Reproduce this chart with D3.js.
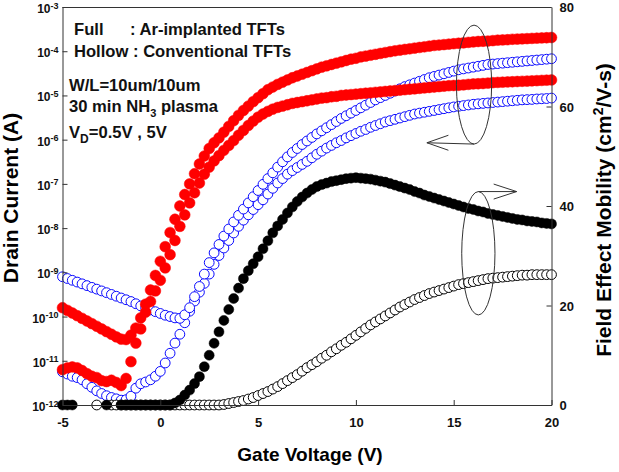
<!DOCTYPE html>
<html>
<head>
<meta charset="utf-8">
<script src="https://cdn.jsdelivr.net/npm/d3@7"></script>
<style>
  body { margin: 0; background: #fff; }
  svg { display: block; font-family: Arial, "Liberation Sans", sans-serif; font-weight: bold; }
</style>
</head>
<body>
<div id="chart"></div>
<script>
// Gate voltage sweep, -5 V to 20 V in 0.25 V steps (101 points)
const gateVoltage = d3.range(101).map(i => -5 + i * 0.25);

// Drain current, stored as log10(I / A)
// Ar-implanted TFT, VD = 5 V (full red, upper)
const logIdArVd5 = [
  -9.80, -9.86, -9.92, -9.98, -10.04, -10.10, -10.16, -10.22, -10.28, -10.34,
  -10.40, -10.46, -10.51, -10.52, -10.42, -10.26, -10.03, -9.72, -9.40, -9.07,
  -8.75, -8.42, -8.10, -7.80, -7.50, -7.24, -7.00, -6.77, -6.55, -6.37,
  -6.20, -6.07, -5.96, -5.83, -5.70, -5.57, -5.45, -5.34, -5.24, -5.14,
  -5.05, -4.96, -4.87, -4.81, -4.75, -4.70, -4.65, -4.60, -4.56, -4.52,
  -4.48, -4.44, -4.40, -4.36, -4.33, -4.30, -4.27, -4.24, -4.21, -4.18,
  -4.16, -4.13, -4.11, -4.09, -4.07, -4.05, -4.03, -4.01, -3.99, -3.975,
  -3.96, -3.945, -3.93, -3.915, -3.90, -3.885, -3.87, -3.86, -3.85, -3.84,
  -3.83, -3.82, -3.81, -3.80, -3.79, -3.78, -3.775, -3.77, -3.76, -3.75,
  -3.745, -3.74, -3.73, -3.725, -3.72, -3.715, -3.71, -3.705, -3.70, -3.695, -3.69
];
// Ar-implanted TFT, VD = 0.5 V (full red, lower)
const logIdArVd05 = [
  -11.20, -11.16, -11.14, -11.16, -11.22, -11.29, -11.35, -11.38, -11.45, -11.47,
  -11.44, -11.49, -11.56, -11.40, -11.02, -10.60, -10.28, -9.90, -9.66, -9.42,
  -9.18, -8.90, -8.60, -8.28, -7.96, -7.70, -7.43, -7.20, -6.98, -6.78,
  -6.62, -6.48, -6.36, -6.24, -6.13, -6.02, -5.90, -5.79, -5.68, -5.58,
  -5.49, -5.42, -5.36, -5.31, -5.27, -5.24, -5.21, -5.18, -5.16, -5.14,
  -5.12, -5.10, -5.08, -5.06, -5.05, -5.03, -5.02, -5.00, -4.99, -4.98,
  -4.97, -4.96, -4.95, -4.94, -4.93, -4.92, -4.91, -4.90, -4.89, -4.88,
  -4.87, -4.86, -4.85, -4.84, -4.83, -4.82, -4.81, -4.80, -4.79, -4.78,
  -4.775, -4.77, -4.76, -4.75, -4.74, -4.735, -4.73, -4.72, -4.71, -4.705,
  -4.70, -4.695, -4.69, -4.685, -4.68, -4.675, -4.67, -4.665, -4.66, -4.655, -4.65
];
// Conventional TFT, VD = 5 V (hollow blue, upper)
const logIdConvVd5 = [
  -9.10, -9.14, -9.18, -9.22, -9.26, -9.30, -9.34, -9.38, -9.42, -9.46,
  -9.50, -9.54, -9.58, -9.62, -9.66, -9.71, -9.76, -9.80, -9.85, -9.89,
  -9.93, -9.97, -10.00, -10.03, -10.04, -9.96, -9.80, -9.55, -9.32, -9.04,
  -8.78, -8.56, -8.37, -8.18, -8.02, -7.86, -7.71, -7.57, -7.43, -7.29,
  -7.15, -7.01, -6.88, -6.75, -6.62, -6.50, -6.39, -6.29, -6.20, -6.11,
  -6.03, -5.95, -5.87, -5.80, -5.73, -5.66, -5.59, -5.52, -5.46, -5.40,
  -5.34, -5.28, -5.22, -5.16, -5.10, -5.05, -5.00, -4.95, -4.90, -4.85,
  -4.80, -4.76, -4.72, -4.68, -4.64, -4.60, -4.57, -4.54, -4.51, -4.48,
  -4.45, -4.42, -4.40, -4.38, -4.36, -4.34, -4.32, -4.30, -4.29, -4.28,
  -4.27, -4.26, -4.25, -4.24, -4.23, -4.22, -4.21, -4.20, -4.19, -4.18, -4.17
];
// Conventional TFT, VD = 0.5 V (hollow blue, lower)
const logIdConvVd05 = [
  -11.25, -11.30, -11.35, -11.38, -11.43, -11.52, -11.60, -11.68, -11.74, -11.79,
  -11.83, -11.86, -11.89, -11.88, -11.80, -11.62, -11.52, -11.48, -11.43, -11.35,
  -11.24, -11.05, -10.83, -10.60, -10.40, -10.14, -9.88, -9.65, -9.45, -9.25,
  -9.04, -8.82, -8.62, -8.45, -8.28, -8.11, -7.96, -7.82, -7.70, -7.58,
  -7.47, -7.36, -7.23, -7.10, -6.98, -6.88, -6.78, -6.70, -6.63, -6.56,
  -6.49, -6.41, -6.33, -6.26, -6.19, -6.13, -6.07, -6.02, -5.96, -5.91,
  -5.86, -5.81, -5.77, -5.72, -5.68, -5.64, -5.60, -5.57, -5.54, -5.51,
  -5.48, -5.45, -5.42, -5.40, -5.38, -5.36, -5.34, -5.32, -5.30, -5.28,
  -5.26, -5.245, -5.23, -5.215, -5.20, -5.19, -5.18, -5.17, -5.16, -5.15,
  -5.14, -5.13, -5.12, -5.11, -5.10, -5.095, -5.09, -5.08, -5.075, -5.07, -5.06
];

// Field effect mobility (cm2/V-s); null = not plotted
const mobilityAr = [
  0, 0, 0, null, null, null, null, null, null, 0,
  null, null, 0, 0, 0, 0, 0, 0, 0, 0,
  0, 0, 0, 0.4, 1.0, 2.0, 3.0, 4.3, 5.7, 7.7,
  10.0, 12.4, 14.7, 17.0, 19.2, 21.4, 23.5, 25.4, 27.0, 28.4,
  29.8, 31.4, 33.0, 34.6, 36.0, 37.3, 38.6, 39.8, 40.9, 41.8,
  42.6, 43.3, 43.9, 44.3, 44.6, 44.9, 45.1, 45.3, 45.5, 45.6,
  45.7, 45.6, 45.5, 45.4, 45.2, 45.0, 44.8, 44.5, 44.2, 43.9,
  43.6, 43.3, 42.9, 42.6, 42.2, 41.9, 41.6, 41.3, 41.0, 40.7,
  40.4, 40.1, 39.8, 39.5, 39.3, 39.0, 38.8, 38.5, 38.3, 38.1,
  37.9, 37.7, 37.5, 37.3, 37.2, 37.0, 36.9, 36.8, 36.6, 36.5, 36.4
];
const mobilityConv = [
  null, null, null, null, null, null, null, 0, null, null,
  0, 0, 0, 0, 0, 0, 0, 0, 0, 0,
  0, 0, 0, 0, 0, 0, 0, 0, 0, 0,
  0, 0, 0, 0.1, 0.3, 0.5, 0.7, 0.9, 1.2, 1.5,
  1.9, 2.3, 2.7, 3.2, 3.7, 4.3, 4.9, 5.5, 6.1, 6.8,
  7.5, 8.1, 8.7, 9.4, 10.0, 10.7, 11.3, 12.0, 12.6, 13.3,
  14.0, 14.7, 15.4, 16.1, 16.7, 17.3, 17.9, 18.5, 19.1, 19.7,
  20.2, 20.7, 21.2, 21.6, 22.0, 22.4, 22.7, 23.0, 23.3, 23.6,
  23.9, 24.2, 24.4, 24.6, 24.8, 25.0, 25.2, 25.4, 25.5, 25.6,
  25.7, 25.8, 25.9, 26.0, 26.1, 26.1, 26.2, 26.2, 26.2, 26.2, 26.2
];

// Tick values
const xTicks = [-5, 0, 5, 10, 15, 20];
const currentExponents = [-12, -11, -10, -9, -8, -7, -6, -5, -4, -3];
const mobilityTicks = [0, 20, 40, 60, 80];

const width = 619;
const height = 472;
const margin = { top: 7, right: 67.5, bottom: 67, left: 62.5 };

const svg = d3.select("#chart").append("svg")
  .attr("width", width)
  .attr("height", height)
  .attr("viewBox", [0, 0, width, height]);

// Scales
const x = d3.scaleLinear().domain([-5, 20]).range([margin.left, width - margin.right]);
const yI = d3.scaleLog().domain([1e-12, 1e-3]).range([height - margin.bottom, margin.top]);
const yM = d3.scaleLinear().domain([0, 80]).range([height - margin.bottom, margin.top]);

const axisColor = "#333";

// Markers
function drawSeries(values, yPos, style) {
  svg.append("g")
    .selectAll("circle")
    .data(gateVoltage.map((v, i) => ({ v, val: values[i] })).filter(d => d.val !== null))
    .join("circle")
    .attr("cx", d => x(d.v))
    .attr("cy", d => yPos(d.val))
    .attr("r", style.r)
    .attr("fill", style.fill)
    .attr("stroke", style.stroke)
    .attr("stroke-width", style.sw);
}
const fromLog = e => yI(Math.pow(10, e));

drawSeries(logIdConvVd05, fromLog, { r: 4.9, fill: "#fff", stroke: "#0a0aff", sw: 1 });
drawSeries(logIdConvVd5, fromLog, { r: 4.9, fill: "#fff", stroke: "#0a0aff", sw: 1 });
drawSeries(mobilityConv, yM, { r: 4.9, fill: "#fff", stroke: "#000", sw: 1 });
drawSeries(mobilityAr, yM, { r: 5, fill: "#000", stroke: "#000", sw: 0.5 });
drawSeries(logIdArVd05, fromLog, { r: 5.4, fill: "#ff0000", stroke: "#f00", sw: 0.5 });
drawSeries(logIdArVd5, fromLog, { r: 5.4, fill: "#ff0000", stroke: "#f00", sw: 0.5 });

// Axes (ticks point inward)
const gx = svg.append("g")
  .attr("transform", `translate(0,${height - margin.bottom})`)
  .call(d3.axisBottom(x).tickValues(xTicks).tickSizeInner(-5).tickSizeOuter(0).tickFormat(d => String(d)));
gx.selectAll("text").attr("y", 22).attr("dy", null).style("font-size", "13px");

const gy = svg.append("g")
  .attr("transform", `translate(${margin.left},0)`)
  .call(d3.axisLeft(yI).tickValues(currentExponents.map(e => Math.pow(10, e))).tickSizeInner(-5).tickSizeOuter(0).tickFormat(""));
gy.selectAll(".tick text").remove();
gy.selectAll(".tick").append("text")
  .attr("x", -4)
  .attr("y", 5.5)
  .attr("text-anchor", "end")
  .attr("fill", "#111")
  .style("font-size", "12px")
  .text("10")
  .append("tspan")
  .attr("dy", -4.5)
  .style("font-size", "9px")
  .text(d => String(Math.round(Math.log10(d))));

const gy2 = svg.append("g")
  .attr("transform", `translate(${width - margin.right},0)`)
  .call(d3.axisRight(yM).tickValues(mobilityTicks).tickSizeInner(-5).tickSizeOuter(0));
gy2.selectAll("text").attr("x", 8).attr("dy", "0.36em").style("font-size", "13px");

svg.append("line")
  .attr("x1", margin.left).attr("x2", width - margin.right)
  .attr("y1", margin.top + 0.5).attr("y2", margin.top + 0.5)
  .attr("stroke", axisColor);

svg.selectAll(".domain, .tick line").attr("stroke", axisColor);
svg.selectAll(".tick text").attr("fill", "#111").style("font-weight", "bold");

// Axis titles
svg.append("text")
  .attr("x", 310).attr("y", 461)
  .attr("text-anchor", "middle")
  .style("font-size", "19px")
  .text("Gate Voltage (V)");

svg.append("text")
  .attr("transform", "translate(18,198) rotate(-90)")
  .attr("text-anchor", "middle")
  .style("font-size", "21px")
  .text("Drain Current (A)");

const rt = svg.append("text")
  .attr("transform", "translate(611,210) rotate(-90)")
  .attr("text-anchor", "middle")
  .style("font-size", "21px");
rt.append("tspan").text("Field Effect Mobility (cm");
rt.append("tspan").attr("dy", -8).style("font-size", "14px").text("2");
rt.append("tspan").attr("dy", 8).text("/V-s)");

// Annotations
const note = svg.append("g").attr("fill", "#111").style("font-size", "16.6px");
note.append("text").attr("x", 74).attr("y", 35).text("Full");
note.append("text").attr("x", 130).attr("y", 35).text(": Ar-implanted TFTs");
note.append("text").attr("x", 74).attr("y", 57).text("Hollow : Conventional TFTs");
note.append("text").attr("x", 69).attr("y", 91).text("W/L=10um/10um");
const nh = note.append("text").attr("x", 69).attr("y", 112);
nh.append("tspan").text("30 min NH");
nh.append("tspan").attr("dy", 5).style("font-size", "11px").text("3");
nh.append("tspan").attr("dy", -5).text(" plasma");
const vd = note.append("text").attr("x", 69).attr("y", 138);
vd.append("tspan").text("V");
vd.append("tspan").attr("dy", 4.5).style("font-size", "12px").text("D");
vd.append("tspan").attr("dy", -4.5).text("=0.5V , 5V");

// Ellipses with arrows pointing at the axis used
const ann = svg.append("g").attr("fill", "none").attr("stroke", "#333").attr("stroke-width", 1);

const e1 = { cx: 16.04, rx: 0.9, top: Math.pow(10, -3.41), bottom: Math.pow(10, -6.1) };
const e1cx = x(e1.cx), e1top = yI(e1.top), e1bot = yI(e1.bottom);
ann.append("ellipse")
  .attr("cx", e1cx).attr("cy", (e1top + e1bot) / 2)
  .attr("rx", x(e1.cx + e1.rx) - e1cx).attr("ry", (e1bot - e1top) / 2);
const t1x = x(13.63), t1y = yI(Math.pow(10, -6.07));
ann.append("path")
  .attr("d", `M${e1cx},${e1bot}L${t1x},${t1y}M${t1x + 21.5},${t1y - 7.5}L${t1x},${t1y}L${t1x + 21.5},${t1y + 7.5}`);

const e2 = { cx: 16.26, rx: 0.85, top: 42.9, bottom: 18.1 };
const e2cx = x(e2.cx), e2top = yM(e2.top), e2bot = yM(e2.bottom);
ann.append("ellipse")
  .attr("cx", e2cx).attr("cy", (e2top + e2bot) / 2)
  .attr("rx", x(e2.cx + e2.rx) - e2cx).attr("ry", (e2bot - e2top) / 2);
const t2x = x(18.22);
ann.append("path")
  .attr("d", `M${e2cx},${e2top}L${t2x},${e2top}M${t2x - 23},${e2top - 7.5}L${t2x},${e2top}L${t2x - 23},${e2top + 7.5}`);
</script>
</body>
</html>
